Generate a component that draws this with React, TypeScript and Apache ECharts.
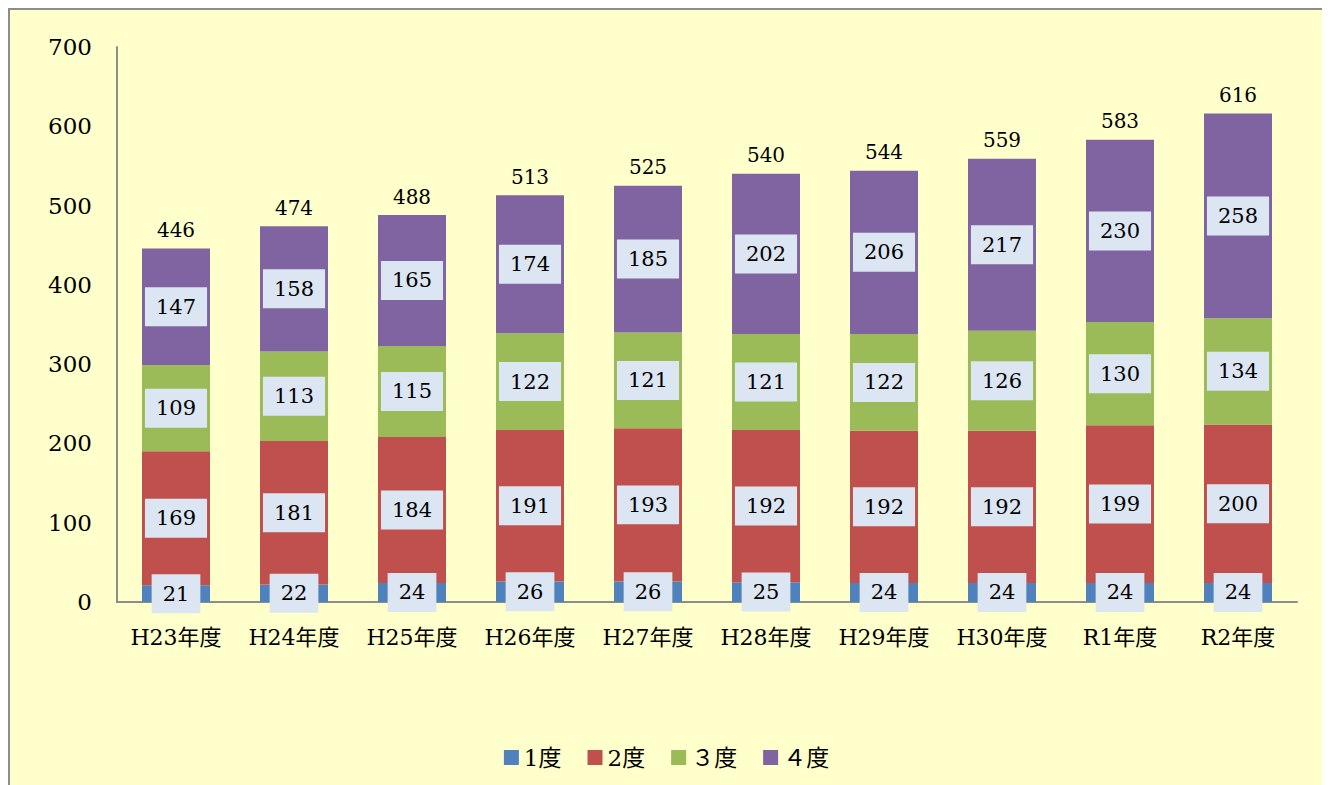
import React, { useEffect, useRef } from "react";
import * as echarts from "echarts";

const categories = ["H23年度", "H24年度", "H25年度", "H26年度", "H27年度", "H28年度", "H29年度", "H30年度", "R1年度", "R2年度"];
const deg1 = [21, 22, 24, 26, 26, 25, 24, 24, 24, 24];
const deg2 = [169, 181, 184, 191, 193, 192, 192, 192, 199, 200];
const deg3 = [109, 113, 115, 122, 121, 121, 122, 126, 130, 134];
const deg4 = [147, 158, 165, 174, 185, 202, 206, 217, 230, 258];
const totals = [446, 474, 488, 513, 525, 540, 544, 559, 583, 616];
const seriesNames = ["1度", "2度", "３度", "４度"];
const colors = ["#4F81BD", "#C0504D", "#9BBB59", "#8064A2"];

const FONT = "'DejaVu Serif', 'Noto Sans CJK JP', serif";

export default function App() {
  const ref = useRef<HTMLDivElement>(null);
  useEffect(() => {
    if (!ref.current) return;
    const chart = echarts.init(ref.current, null, { renderer: "svg" });
    const segLabel = {
      show: true,
      position: "inside",
      color: "#000",
      fontFamily: FONT,
      fontSize: 21,
      backgroundColor: "#DCE6F2",
      padding: [10, 11, 8, 11],
    };
    const data = [deg1, deg2, deg3, deg4];
    const barSeries = data.map((d, i) => ({
      name: seriesNames[i],
      type: "bar",
      stack: "total",
      data: d,
      barWidth: 68,
      itemStyle: { color: colors[i] },
      label: segLabel,
      z: 2,
    }));
    chart.setOption({
      animation: false,
      textStyle: { fontFamily: FONT },
      grid: { left: 107, top: 37, width: 1180, height: 555 },
      legend: {
        top: 731,
        left: "center",
        itemWidth: 15,
        itemHeight: 15,
        itemGap: 26,
        icon: "rect",
        textStyle: { fontFamily: FONT, fontSize: 23, color: "#000" },
        data: seriesNames,
      },
      xAxis: {
        type: "category",
        data: categories,
        axisLine: { lineStyle: { color: "#8c8c8c", width: 2 } },
        axisTick: { show: false },
        axisLabel: { color: "#000", fontSize: 22, fontFamily: FONT, margin: 24, interval: 0 },
      },
      yAxis: {
        type: "value",
        min: 0,
        max: 700,
        interval: 100,
        axisLine: { show: true, lineStyle: { color: "#8c8c8c", width: 2 } },
        axisTick: { show: false },
        splitLine: { show: false },
        axisLabel: { color: "#000", fontSize: 23, fontFamily: FONT, margin: 25 },
      },
      series: [
        ...barSeries,
        {
          name: "合計",
          type: "line",
          data: totals,
          symbol: "circle",
          symbolSize: 1,
          itemStyle: { color: "transparent" },
          lineStyle: { width: 0, color: "transparent" },
          label: {
            show: true,
            position: "top",
            distance: 8,
            color: "#000",
            fontFamily: FONT,
            fontSize: 20,
          },
          z: 3,
        },
      ],
    });
    return () => chart.dispose();
  }, []);
  return (
    <div
      style={{
        width: 1317,
        height: 790,
        border: "2px solid #8c8c8c",
        boxSizing: "border-box",
        background: "#FFFFCC",
      }}
    >
      <div ref={ref} style={{ width: 1313, height: 786 }} />
    </div>
  );
}
